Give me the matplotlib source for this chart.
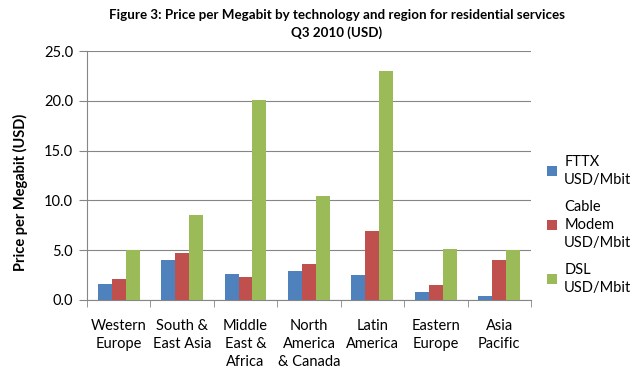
import numpy as np
import matplotlib.pyplot as plt

plt.rcParams['font.family'] = ['Lato', 'DejaVu Sans']

regions = ['Western\nEurope', 'South &\nEast Asia', 'Middle\nEast &\nAfrica',
           'North\nAmerica\n& Canada', 'Latin\nAmerica', 'Eastern\nEurope', 'Asia\nPacific']
fttx = [1.6, 4.0, 2.6, 2.9, 2.5, 0.8, 0.35]
cable = [2.1, 4.7, 2.35, 3.6, 6.9, 1.5, 4.0]
dsl = [5.0, 8.5, 20.1, 10.4, 23.0, 5.1, 5.0]
labels = ['FTTX\nUSD/Mbit', 'Cable\nModem\nUSD/Mbit', 'DSL\nUSD/Mbit']

fig = plt.figure(figsize=(6.39, 3.73), dpi=100)
ax = fig.add_axes([0.136, 0.196, 0.695, 0.667])

index = np.arange(len(regions))
bar_width = 0.22
colors = ['#4F81BD', '#C0504D', '#9BBB59']
for i, (vals, col, lab) in enumerate(zip([fttx, cable, dsl], colors, labels)):
    ax.bar(index + (i - 1) * bar_width, vals, bar_width, color=col, label=lab, zorder=3)

ax.set_xlim(-0.5, len(regions) - 0.5)
ax.set_ylim(0, 25)
ax.set_yticks(np.arange(0, 25.1, 5))
ax.set_yticklabels(['%.1f' % v for v in np.arange(0, 25.1, 5)], fontsize=10.5)
ax.yaxis.grid(True, color='#868686', linewidth=0.8, zorder=0)
ax.set_xticks(index)
ax.set_xticklabels(regions, fontsize=10.5, linespacing=1.35)
ax.set_xticks(np.arange(-0.5, len(regions)), minor=True)
ax.tick_params(axis='x', which='major', length=0, pad=14)
ax.tick_params(axis='x', which='minor', length=5, color='#868686', direction='out')
ax.tick_params(axis='y', length=6, color='#868686', direction='out', pad=4)
for s in ['top', 'right']:
    ax.spines[s].set_visible(False)
for s in ['left', 'bottom']:
    ax.spines[s].set_color('#868686')

fig.text(20 / 639, 0.485, 'Price per Megabit (USD)', rotation=90, fontsize=10.5,
         fontweight='bold', ha='center', va='center')
fig.suptitle('Figure 3: Price per Megabit by technology and region for residential services\nQ3 2010 (USD)',
             fontsize=9.6, fontweight='bold', x=0.527, y=0.975, linespacing=1.45)

leg = fig.legend(loc='upper left', bbox_to_anchor=(0.835, 0.62), frameon=False, fontsize=10.5,
                 handlelength=0.7, handleheight=0.7, handletextpad=0.5, labelspacing=0.9)
for t in leg.get_texts():
    t.set_linespacing(1.35)
    t.set_horizontalalignment('left')
    t.set_multialignment('left')

fig.savefig('out.png', dpi=100)
